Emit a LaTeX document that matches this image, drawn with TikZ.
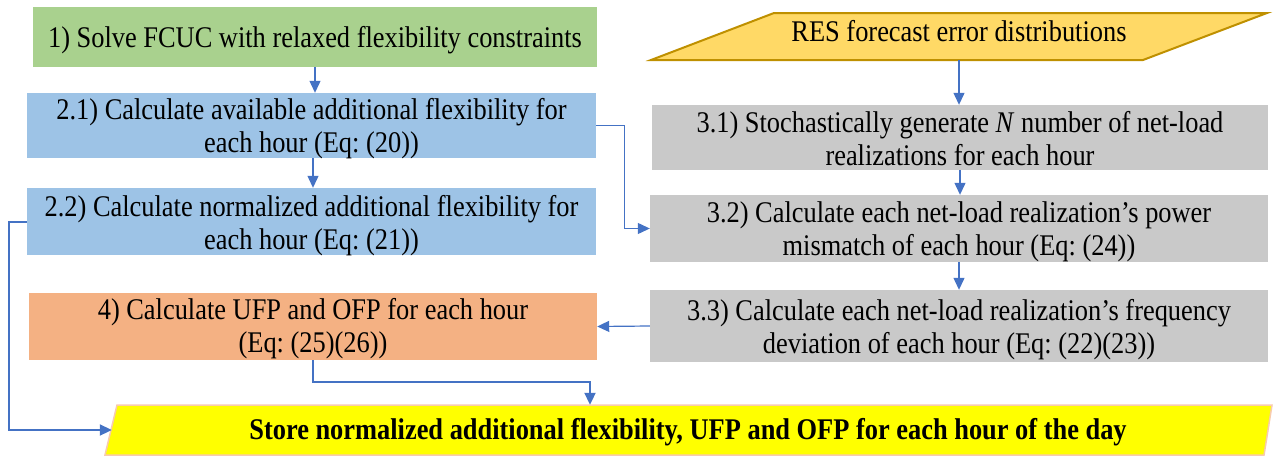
\documentclass[tikz,border=0pt]{standalone}
\usepackage{fontspec}
\setmainfont{Liberation Serif}[FakeStretch=0.88]
\usetikzlibrary{arrows.meta,calc}
\definecolor{cgreen}{HTML}{A9D18E}
\definecolor{cblue}{HTML}{9DC3E6}
\definecolor{cgray}{HTML}{C9C9C9}
\definecolor{corange}{HTML}{F4B183}
\definecolor{cgold}{HTML}{FFD966}
\definecolor{cgoldb}{HTML}{BF9000}
\definecolor{cyel}{HTML}{FFFF00}
\definecolor{cyelb}{HTML}{F8CBAD}
\definecolor{carrow}{HTML}{4472C4}
\tikzset{
  box/.style={inner sep=0pt},
  txt/.style={inner sep=0pt, align=center, font=\frenchspacing\fontsize{30}{33}\selectfont},
  thinarrow/.style={draw=carrow, line width=1.2pt, -{Triangle[length=12pt,width=11pt]}},
  thickarrow/.style={draw=carrow, line width=2pt, -{Triangle[length=12pt,width=11pt]}},
}
\begin{document}
\begin{tikzpicture}[x=1pt,y=-1pt]
\useasboundingbox (0,0) rectangle (1273,455);
% parallelograms
\path[fill=cgold, draw=cgoldb, line width=2pt] (774,13) -- (1267,13) -- (1143,60) -- (651,60) -- cycle;
\path[fill=cyel, draw=cyelb, line width=1.5pt] (117,405) -- (1272,405) -- (1264,455) -- (105,455) -- cycle;
% nodes
\node[box, fill=cgreen, minimum width=564, minimum height=60,
  label={[txt,yshift=-3pt]center:1) Solve FCUC with relaxed flexibility constraints}] (s1) at (315,37) {};
\node[box, fill=cblue, minimum width=569, minimum height=65,
  label={[txt,yshift=-3pt]center:2.1) Calculate available additional flexibility for\\each hour (Eq: (20))}] (s21) at (311.5,125.5) {};
\node[box, fill=cblue, minimum width=569, minimum height=67,
  label={[txt,yshift=-4pt]center:2.2) Calculate normalized additional flexibility for\\each hour (Eq: (21))}] (s22) at (311.5,221.5) {};
\node[box, fill=corange, minimum width=568, minimum height=67,
  label={[txt,yshift=-2pt]center:4) Calculate UFP and OFP for each hour\\(Eq: (25)(26))}] (s4) at (313,326.5) {};
\node[box, minimum width=490, minimum height=47,
  label={[txt,yshift=5pt]center:RES forecast error distributions}] (res) at (959,36.5) {};
\node[box, fill=cgray, minimum width=616, minimum height=65,
  label={[txt,yshift=-1pt]center:3.1) Stochastically generate \textit{N} number of net-load\\realizations for each hour}] (s31) at (960,137.5) {};
\node[box, fill=cgray, minimum width=618, minimum height=67,
  label={[txt,yshift=-3pt]center:3.2) Calculate each net-load realization’s power\\mismatch of each hour (Eq: (24))}] (s32) at (959,228.5) {};
\node[box, fill=cgray, minimum width=618, minimum height=72,
  label={[txt,yshift=-4pt]center:3.3) Calculate each net-load realization’s frequency\\deviation of each hour (Eq: (22)(23))}] (s33) at (959,326) {};
\node[box, minimum width=1150, minimum height=50,
  label={[txt,yshift=-2pt,font=\frenchspacing\fontsize{30}{33}\selectfont\bfseries]center:Store normalized additional flexibility, UFP and OFP for each hour of the day}] (st) at (688,430) {};
% connectors
\draw[thinarrow] (s1.south) -- (s1.south |- s21.north);
\draw[thinarrow] ([xshift=1.5pt]s21.south) -- ([xshift=1.5pt]s22.north);
\draw[thinarrow] (res.south) -- (res.south |- s31.north);
\draw[thinarrow] (s31.south) -- (s31.south |- s32.north);
\draw[thinarrow] (s32.south) -- (s33.north);
\draw[thinarrow] (s21.east) -- ++(28,0) |- (s32.west);
\draw[thinarrow] (s33.west) -- (s4.east);
\draw[thickarrow] (s4.south) -- ++(0,22) -| ([xshift=-98pt]st.north);
\draw[thickarrow] (s22.west) -- ++(-18,0) |- ([xshift=-1pt]st.west);
\end{tikzpicture}
\end{document}
